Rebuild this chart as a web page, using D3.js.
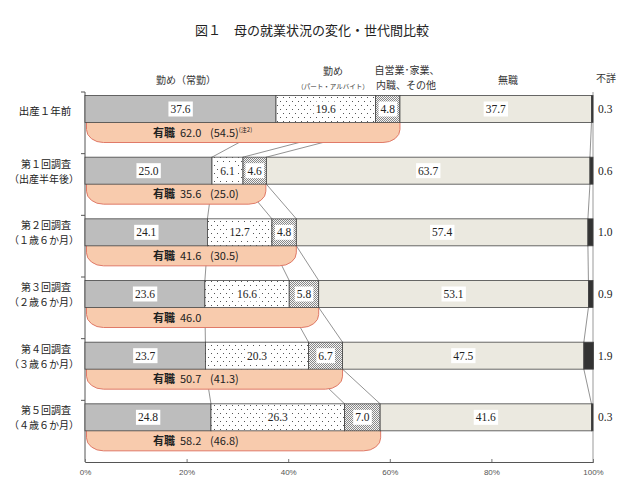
<!DOCTYPE html>
<html><head><meta charset="utf-8">
<script src="https://cdn.jsdelivr.net/npm/d3@7"></script>
<style>body{margin:0;background:#fff}svg{display:block}</style>
</head><body>
<svg id="c" width="640" height="493"></svg>
<script>
const categories = ["出産１年前","第１回調査\n（出産半年後）","第２回調査\n（１歳６か月）","第３回調査\n（２歳６か月）","第４回調査\n（３歳６か月）","第５回調査\n（４歳６か月）"];
const seriesNames = ["勤め（常勤）","勤め（パート・アルバイト）","自営業・家業、内職、その他","無職","不詳"];
const regular   = [37.6, 25.0, 24.1, 23.6, 23.7, 24.8];
const parttime  = [19.6, 6.1, 12.7, 16.6, 20.3, 26.3];
const selfEmp   = [4.8, 4.6, 4.8, 5.8, 6.7, 7.0];
const noJob     = [37.7, 63.7, 57.4, 53.1, 47.5, 41.6];
const unknown   = [0.3, 0.6, 1.0, 0.9, 1.9, 0.3];
const employed  = [62.0, 35.6, 41.6, 46.0, 50.7, 58.2];
const employedPrev = ["(54.5)","(25.0)","(30.5)","","(41.3)","(46.8)"];
const xTicks = [0,20,40,60,80,100];

const svg = d3.select("#c");
const defs = svg.append("defs");
const p1 = defs.append("pattern").attr("id","dots").attr("patternUnits","userSpaceOnUse").attr("width",6).attr("height",8);
p1.append("rect").attr("width",6).attr("height",8).attr("fill","#fff");
p1.append("rect").attr("x",1).attr("y",1).attr("width",1).attr("height",1).attr("fill","#555");
p1.append("rect").attr("x",4).attr("y",5).attr("width",1).attr("height",1).attr("fill","#555");
const p2 = defs.append("pattern").attr("id","mesh").attr("patternUnits","userSpaceOnUse").attr("width",2).attr("height",2);
p2.append("rect").attr("width",2).attr("height",2).attr("fill","#f4f4f4");
p2.append("rect").attr("x",0).attr("y",0).attr("width",1).attr("height",1).attr("fill","#888");
p2.append("rect").attr("x",1).attr("y",1).attr("width",1).attr("height",1).attr("fill","#888");

const fills = ["#bdbdbd","url(#dots)","url(#mesh)","#ebe9e0","#333333"];

const x = d3.scaleLinear().domain([0,100]).range([85,593]);
const y = d3.scaleBand().domain(categories).range([92,462]).paddingInner(0);
const barOff = 3.5, barH = 27, pillH = 20;

const data = categories.map((c,i)=>{
  const vals=[regular[i],parttime[i],selfEmp[i],noJob[i],unknown[i]];
  let acc=0; const segs=vals.map((v,j)=>{const s={j,v,x0:acc,x1:acc+v};acc+=v;return s;});
  return {c,i,segs};
});
const barTop = d=>y(d.c)+barOff, barBot = d=>y(d.c)+barOff+barH;

// title
svg.append("text").attr("x",312).attr("y",35).attr("text-anchor","middle")
  .attr("font-family","'Noto Sans CJK JP'").attr("font-size",13).attr("fill","#222")
  .text("図１　母の就業状況の変化・世代間比較");

// headers
const hf = "'Noto Sans CJK JP'";
const hdr = (t,xx,yy,fs)=>svg.append("text").attr("x",xx).attr("y",yy).attr("text-anchor","middle")
  .attr("font-family",hf).attr("font-size",fs).attr("fill","#333").text(t);
hdr("勤め（常勤）",186,84,10);
hdr("勤め",333,75,10);
hdr("（パート・アルバイト）",333,89,6.5);
hdr("自営業･家業、",407,74,10);
hdr("内職、その他",406,89,10);
hdr("無職",508,84,10);
hdr("不詳",606,82,10);

// connecting lines
const lines = svg.append("g");
for(let k=0;k<data.length-1;k++){
  for(let j=1;j<=4;j++){
    lines.append("line")
      .attr("x1",x(data[k].segs[j-1].x1)).attr("y1",barBot(data[k]))
      .attr("x2",x(data[k+1].segs[j-1].x1)).attr("y2",barTop(data[k+1]))
      .attr("stroke","#777").attr("stroke-width",0.8);
  }
}

// axes
svg.append("line").attr("x1",x(0)).attr("x2",x(0)).attr("y1",92).attr("y2",462).attr("stroke","#555").attr("stroke-width",1);
svg.append("line").attr("x1",x(100)).attr("x2",x(100)).attr("y1",92).attr("y2",462).attr("stroke","#999").attr("stroke-width",1);
categories.forEach(c=>{
  svg.append("line").attr("x1",x(0)-4).attr("x2",x(0)).attr("y1",y(c)).attr("y2",y(c)).attr("stroke","#555");
});
const ax = svg.append("g").attr("transform","translate(0,462)")
  .call(d3.axisBottom(x).tickValues(xTicks).tickSize(-3).tickPadding(7).tickFormat(d=>d+"%"));
ax.select(".domain").attr("stroke","#555");
ax.selectAll(".tick line").attr("stroke","#777");
ax.selectAll("text").attr("font-family","'Liberation Sans'").attr("font-size",8).attr("fill","#555");

// pills
data.forEach((d,i)=>{
  const x0=x(0)+1.5, x1=x(employed[i]), y0=barBot(d)-2, y1=barBot(d)+pillH, rx=17, ry=13;
  const p=`M${x0},${y0} L${x1},${y0} L${x1},${y1-ry} A${rx},${ry} 0 0 1 ${x1-rx},${y1} L${x0+rx},${y1} A${rx},${ry} 0 0 1 ${x0},${y1-ry} Z`;
  svg.append("path").attr("d",p).attr("fill","#f8cbad").attr("stroke","#e07a68").attr("stroke-width",1);
  const t = svg.append("text").attr("x",153).attr("y",barBot(d)+pillH/2+1).attr("dominant-baseline","middle")
    .attr("font-family","'Noto Sans CJK JP'").attr("font-size",11).attr("fill","#222");
  t.append("tspan").attr("font-weight","bold").text("有職");
  t.append("tspan").attr("x",180).text(employed[i].toFixed(1));
  if(employedPrev[i]) t.append("tspan").attr("x",210).text(employedPrev[i]);
  if(i===0) t.append("tspan").attr("font-size",6).attr("dy",-4).text("(注2)");
});

// bars
const rows = svg.selectAll("g.row").data(data).join("g").attr("class","row");
rows.selectAll("rect").data(d=>d.segs.map(s=>({...s,d}))).join("rect")
  .attr("x",s=>x(s.x0)).attr("width",s=>x(s.x1)-x(s.x0))
  .attr("y",s=>barTop(s.d)).attr("height",barH)
  .attr("fill",s=>fills[s.j]).attr("stroke","#444").attr("stroke-width",0.8);

// value labels
data.forEach(d=>{
  d.segs.slice(0,4).forEach(s=>{
    const cx=(x(s.x0)+x(s.x1))/2, cy=barTop(d)+barH/2;
    const g=svg.append("g");
    const t=g.append("text").attr("x",cx).attr("y",cy).attr("text-anchor","middle").attr("dominant-baseline","central")
      .attr("font-family","'Liberation Serif'").attr("font-size",11.5).attr("fill","#222").text(s.v.toFixed(1));
    const bb=t.node().getBBox();
    g.insert("rect","text").attr("x",bb.x-2).attr("y",cy-7.5).attr("width",bb.width+4).attr("height",15).attr("fill","#fff");
  });
  const u=d.segs[4];
  svg.append("text").attr("x",598).attr("y",barTop(d)+barH/2).attr("dominant-baseline","central")
    .attr("font-family","'Liberation Serif'").attr("font-size",11.5).attr("fill","#222").text(u.v.toFixed(1));
});

// category labels
data.forEach(d=>{
  const parts=d.c.split("\n"), cy=barTop(d)+barH/2;
  const mk=(txt,xx,yy)=>svg.append("text").attr("text-anchor","middle").attr("font-family","'Noto Sans CJK JP'")
    .attr("font-size",10).attr("fill","#222").attr("x",xx).attr("y",yy).attr("dominant-baseline","central").text(txt);
  if(parts.length===1){
    mk(parts[0],45,cy+1).attr("font-size",10.5);
  } else {
    mk(parts[0],46,cy-7.5);
    mk(parts[1],44,cy+7.5);
  }
});
</script>
</body></html>
